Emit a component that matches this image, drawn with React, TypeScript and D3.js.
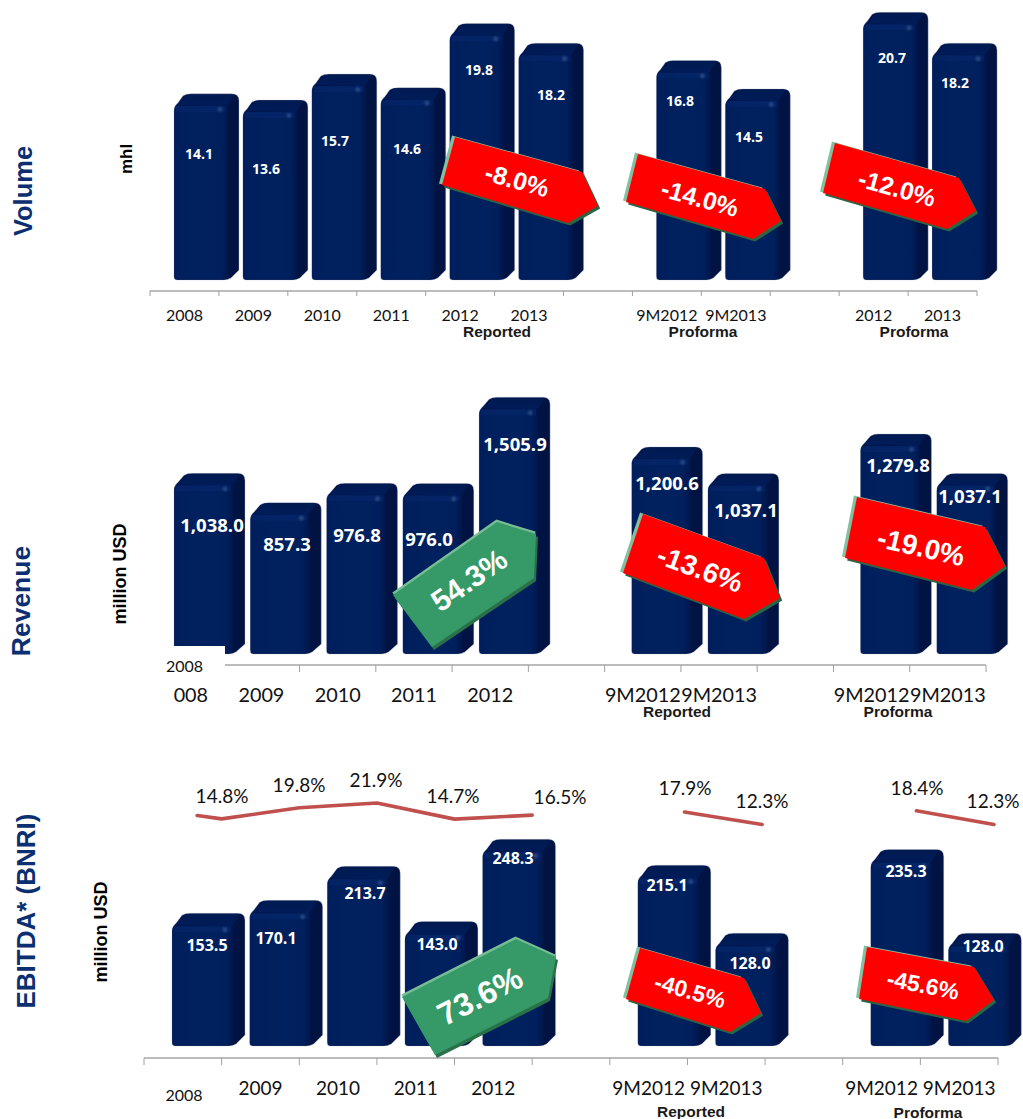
import React from "react";
import * as d3 from "d3";

// ---- Data -------------------------------------------------------------
const volumeCategories = ["2008", "2009", "2010", "2011", "2012", "2013", "gapA", "9M2012", "9M2013", "gapB", "2012P", "2013P"];
const volumeValues = [14.1, 13.6, 15.7, 14.6, 19.8, 18.2, null, 16.8, 14.5, null, 20.7, 18.2];
const volumeTickLabels = ["2008", "2009", "2010", "2011", "2012", "2013", "", "9M2012", "9M2013", "", "2012", "2013"];

const revenueCategories = ["2008", "2009", "2010", "2011", "2012", "gapA", "9M2012", "9M2013", "gapB", "9M2012P", "9M2013P"];
const revenueValues = [1038.0, 857.3, 976.8, 976.0, 1505.9, null, 1200.6, 1037.1, null, 1279.8, 1037.1];
const revenueTickLabels = ["2008", "2009", "2010", "2011", "2012", "", "9M2012", "9M2013", "", "9M2012", "9M2013"];

const ebitdaCategories = revenueCategories;
const ebitdaValues = [153.5, 170.1, 213.7, 143.0, 248.3, null, 215.1, 128.0, null, 235.3, 128.0];
const ebitdaTickLabels = ["", "2009", "2010", "2011", "2012", "", "9M2012", "9M2013", "", "9M2012", "9M2013"];

const marginAnnual = [14.8, 19.8, 21.9, 14.7, 16.5];
const marginAnnualLeadIn = 16.3;
const marginReported = [17.9, 12.3];
const marginProforma = [18.4, 12.3];

const changeLabels = {
  volume: ["-8.0%", "-14.0%", "-12.0%"],
  revenue: ["54.3%", "-13.6%", "-19.0%"],
  ebitda: ["73.6%", "-40.5%", "-45.6%"],
};

// ---- Layout -----------------------------------------------------------
const W = 1023;
const H = 1119;
const LABEL_FONT = "Lato, 'Open Sans', sans-serif";
const VALUE_FONT = "'Open Sans', Lato, sans-serif";
const BOLD_FONT = "'Liberation Sans', Arial, sans-serif";
const NAVY = "#0b2f70";

type Tag = {
  pts: number[][];
  text: string;
  cx: number;
  cy: number;
  angle: number;
  size: number;
  up?: boolean;
};

type Panel = {
  categories: string[];
  values: (number | null)[];
  ticks: string[];
  range: [number, number];
  axisY: number;
  tickLen: number;
  base: number;
  perUnit: number;
  barOffset: number;
  barWidth: number;
  depthX: number;
  depthY: number;
  valueSize: number;
  labelSize: number;
  labelY: number;
  valueAnchors: number[][];
  tags: Tag[];
  groups: { text: string; x: number; y: number }[];
};

const panels: Panel[] = [
  {
    categories: volumeCategories,
    values: volumeValues,
    ticks: volumeTickLabels,
    range: [150, 977],
    axisY: 291,
    tickLen: 5,
    base: 280,
    perUnit: 12.35,
    barOffset: 24,
    barWidth: 52,
    depthX: 13,
    depthY: 12,
    valueSize: 14,
    labelSize: 16,
    labelY: 314,
    valueAnchors: [[199, 153], [266, 168], [335, 140], [407, 148], [479, 69], [551, 94], [0, 0], [680, 100], [749, 136], [0, 0], [892, 57], [955, 82]],
    tags: [
      { pts: [[455, 137], [582, 172], [598, 206], [568, 223], [442, 185]], text: changeLabels.volume[0], cx: 517, cy: 180, angle: 15.5, size: 25 },
      { pts: [[638, 154], [765, 189], [781, 221], [753, 239], [626, 202]], text: changeLabels.volume[1], cx: 700, cy: 198, angle: 15.5, size: 25 },
      { pts: [[835, 143], [959, 178], [976, 211], [947, 229], [823, 193]], text: changeLabels.volume[2], cx: 897, cy: 188, angle: 15.5, size: 25 },
    ],
    groups: [
      { text: "Reported", x: 497, y: 331 },
      { text: "Proforma", x: 703, y: 331 },
      { text: "Proforma", x: 914, y: 331 },
    ],
  },
  {
    categories: revenueCategories,
    values: revenueValues,
    ticks: revenueTickLabels,
    range: [147, 986],
    axisY: 665,
    tickLen: 7,
    base: 654,
    perUnit: 0.1625,
    barOffset: 27,
    barWidth: 57,
    depthX: 14,
    depthY: 12,
    valueSize: 18.5,
    labelSize: 19.8,
    labelY: 694,
    valueAnchors: [[212, 524], [287, 543], [357, 534], [429, 538], [515, 443], [0, 0], [667, 482], [746, 509], [0, 0], [898, 464], [970, 495]],
    tags: [
      { pts: [[393, 595], [497, 522], [536, 534], [534, 578], [432, 647]], text: changeLabels.revenue[0], cx: 469, cy: 580, angle: -35, size: 30, up: true },
      { pts: [[643, 514], [764, 558], [780, 598], [744, 619], [623, 573]], text: changeLabels.revenue[1], cx: 700, cy: 569, angle: 20, size: 28 },
      { pts: [[857, 497], [985, 527], [1005, 566], [972, 590], [845, 558]], text: changeLabels.revenue[2], cx: 921, cy: 547, angle: 13, size: 28 },
    ],
    groups: [
      { text: "Reported", x: 677, y: 711 },
      { text: "Proforma", x: 898, y: 711 },
    ],
  },
  {
    categories: ebitdaCategories,
    values: ebitdaValues,
    ticks: ebitdaTickLabels,
    range: [144, 998],
    axisY: 1058,
    tickLen: 7,
    base: 1046,
    perUnit: 0.78,
    barOffset: 28,
    barWidth: 59,
    depthX: 14,
    depthY: 13,
    valueSize: 16,
    labelSize: 19,
    labelY: 1087,
    valueAnchors: [[207, 945], [276, 938], [365, 893], [437, 944], [513, 858], [0, 0], [667, 885], [750, 963], [0, 0], [906, 871], [983, 946]],
    tags: [
      { pts: [[402, 997], [516, 939], [556, 957], [548, 998], [435, 1055]], text: changeLabels.ebitda[0], cx: 480, cy: 996, angle: -27, size: 32, up: true },
      { pts: [[640, 948], [744, 978], [761, 1013], [730, 1032], [626, 999]], text: changeLabels.ebitda[1], cx: 690, cy: 991, angle: 16, size: 23 },
      { pts: [[867, 947], [974, 967], [994, 1000], [966, 1021], [859, 999]], text: changeLabels.ebitda[2], cx: 923, cy: 985, angle: 11, size: 23 },
    ],
    groups: [
      { text: "Reported", x: 691, y: 1111 },
      { text: "Proforma", x: 928, y: 1112 },
    ],
  },
];

const sideTitles = [
  { text: "Volume", x: 23, y: 191, size: 25.5, fill: NAVY },
  { text: "Revenue", x: 21, y: 601, size: 26.5, fill: NAVY },
  { text: "EBITDA* (BNRI)", x: 26, y: 911, size: 26, fill: NAVY },
  { text: "mhl", x: 126, y: 159, size: 17, fill: "#000" },
  { text: "million USD", x: 120, y: 574, size: 18, fill: "#000" },
  { text: "million USD", x: 101, y: 932, size: 18, fill: "#000" },
];

// Rounded 3D column silhouette: front face plus the receding top and side.
function columnOutline(x0: number, x1: number, top: number, base: number, dx: number, dy: number) {
  const p = d3.path();
  const r = 3;
  p.moveTo(x0 + r, base);
  p.quadraticCurveTo(x0, base, x0, base - r);
  p.lineTo(x0, top + 5);
  p.quadraticCurveTo(x0, top, x0 + 4, top - 3);
  p.lineTo(x0 + dx - 4, top - dy + 2);
  p.quadraticCurveTo(x0 + dx - 1, top - dy, x0 + dx + 4, top - dy);
  p.lineTo(x1 + dx - 7, top - dy);
  p.quadraticCurveTo(x1 + dx, top - dy, x1 + dx, top - dy + 7);
  p.lineTo(x1 + dx, base - dy + 2);
  p.lineTo(x1 + 5, base - 2);
  p.quadraticCurveTo(x1 + 2, base, x1 - 3, base);
  p.closePath();
  return p.toString();
}

function Column({ x, width, top, base, dx, dy }: { x: number; width: number; top: number; base: number; dx: number; dy: number }) {
  const x1 = x + width;
  return (
    <g>
      <path d={columnOutline(x, x1, top, base, dx, dy)} fill="url(#columnSide)" stroke="#b9c1d2" strokeOpacity={0.5} strokeWidth={0.7} />
      <path
        d={`M${x + 3},${top - 1} L${x + dx},${top - dy + 0.8} L${x1 + dx - 5},${top - dy + 0.8} L${x1 + 1},${top} Z`}
        fill="url(#columnTop)"
      />
      <rect x={x + 0.4} y={top} width={width + 2} height={base - top - 0.4} rx={4} fill="url(#columnFront)" />
      <rect x={x + 2} y={top} width={width - 2} height={6} fill="#05276d" opacity={0.5} />
      <circle cx={x1 - 6} cy={top + 3.5} r={2.4} fill="#37558f" opacity={0.75} filter="url(#softDot)" />
    </g>
  );
}

function ChangeTag({ tag }: { tag: Tag }) {
  const d = d3.line()(tag.pts as [number, number][]) + "Z";
  const colors = tag.up
    ? { light: "#79bd96", dark: "#2a7049", face: "#359a68" }
    : { light: "#82c0a0", dark: "#2a6545", face: "#ff0000" };
  const lift = tag.up ? [-0.6, -2.4] : [-3, -1.6];
  const drop = tag.up ? [2, 3] : [2.2, 2.6];
  return (
    <g>
      <path d={d} transform={`translate(${lift[0]},${lift[1]})`} fill={colors.light} />
      <path d={d} transform={`translate(${drop[0]},${drop[1]})`} fill={colors.dark} />
      <path d={d} fill={colors.face} />
      <text
        transform={`translate(${tag.cx},${tag.cy}) rotate(${tag.angle})`}
        textAnchor="middle"
        dominantBaseline="central"
        fontFamily={BOLD_FONT}
        fontWeight={700}
        fontSize={tag.size}
        fill="#fff"
      >
        {tag.text}
      </text>
    </g>
  );
}

function ChartPanel({ panel }: { panel: Panel }) {
  const band = d3.scaleBand<string>().domain(panel.categories).range(panel.range).padding(0);
  const step = band.step();
  const maxValue = d3.max(panel.values as number[]) as number;
  const y = d3
    .scaleLinear()
    .domain([0, maxValue])
    .range([panel.base, panel.base - maxValue * panel.perUnit]);
  const edges = panel.categories.map((c) => band(c) as number).concat(panel.range[1]);

  return (
    <g>
      <line x1={panel.range[0]} x2={panel.range[1]} y1={panel.axisY} y2={panel.axisY} stroke="#a6a6a6" strokeWidth={1.6} />
      {edges.map((e, i) => (
        <line key={i} x1={e} x2={e} y1={panel.axisY} y2={panel.axisY + panel.tickLen} stroke="#a0a0a0" strokeWidth={1} />
      ))}
      {panel.ticks.map((t, i) =>
        t ? (
          <text
            key={i}
            x={(band(panel.categories[i]) as number) + step / 2}
            y={panel.labelY}
            textAnchor="middle"
            dominantBaseline="central"
            fontFamily={LABEL_FONT}
            fontSize={panel.labelSize}
            fill="#111"
          >
            {t}
          </text>
        ) : null
      )}
      {panel.values.map((v, i) =>
        v == null ? null : (
          <Column
            key={i}
            x={(band(panel.categories[i]) as number) + panel.barOffset}
            width={panel.barWidth}
            top={y(v)}
            base={panel.base}
            dx={panel.depthX}
            dy={panel.depthY}
          />
        )
      )}
      {panel.values.map((v, i) =>
        v == null ? null : (
          <text
            key={i}
            x={panel.valueAnchors[i][0]}
            y={panel.valueAnchors[i][1]}
            textAnchor="middle"
            dominantBaseline="central"
            fontFamily={VALUE_FONT}
            fontWeight={700}
            fontSize={panel.valueSize}
            fill="#fff"
          >
            {d3.format(maxValue > 1000 ? ",.1f" : ".1f")(v)}
          </text>
        )
      )}
      {panel.groups.map((g, i) => (
        <text
          key={i}
          x={g.x}
          y={g.y}
          textAnchor="middle"
          dominantBaseline="central"
          fontFamily={BOLD_FONT}
          fontWeight={700}
          fontSize={15.5}
          fill="#1a1a1a"
        >
          {g.text}
        </text>
      ))}
      {panel.tags.map((t, i) => (
        <ChangeTag key={i} tag={t} />
      ))}
    </g>
  );
}

// EBITDA margin polylines above the lowest panel.
function MarginLines() {
  const ebitda = panels[2];
  const band = d3.scaleBand<string>().domain(ebitda.categories).range(ebitda.range);
  const step = band.step();
  const my = d3.scaleLinear().domain([12.3, 21.9]).range([824.5, 803]);
  const line = d3
    .line<{ x: number; v: number }>()
    .x((d) => d.x)
    .y((d) => my(d.v));

  const annual = marginAnnual.map((v, i) => ({ x: (band(ebitda.categories[i]) as number) + step, v }));
  const reported = marginReported.map((v, i) => ({ x: (band(ebitda.categories[6 + i]) as number) + step - 3, v }));
  const proforma = marginProforma.map((v, i) => ({ x: (band(ebitda.categories[9 + i]) as number) + step - 4, v }));
  const leadIn = { x: annual[0].x - 24.5, v: marginAnnualLeadIn };

  const series = [[leadIn, ...annual], reported, proforma];
  const labels = [
    { v: marginAnnual[0], x: 222, y: 795 },
    { v: marginAnnual[1], x: 299, y: 784 },
    { v: marginAnnual[2], x: 376, y: 779 },
    { v: marginAnnual[3], x: 453, y: 795 },
    { v: marginAnnual[4], x: 560, y: 796 },
    { v: marginReported[0], x: 685, y: 787 },
    { v: marginReported[1], x: 762, y: 800 },
    { v: marginProforma[0], x: 917, y: 787 },
    { v: marginProforma[1], x: 993, y: 800 },
  ];
  return (
    <g>
      {series.map((s, i) => (
        <path key={i} d={line(s) as string} fill="none" stroke="#c0504d" strokeWidth={3.6} strokeLinejoin="round" strokeLinecap="round" />
      ))}
      {labels.map((l, i) => (
        <text key={i} x={l.x} y={l.y} textAnchor="middle" dominantBaseline="central" fontFamily={LABEL_FONT} fontSize={19} fill="#111">
          {d3.format(".1f")(l.v)}%
        </text>
      ))}
    </g>
  );
}

export default function App() {
  return (
    <svg width={W} height={H} viewBox={`0 0 ${W} ${H}`} style={{ position: "absolute", left: 0, top: 0, display: "block" }}>
      <defs>
        <linearGradient id="columnFront" x1="0" x2="1" y1="0" y2="0">
          <stop offset="0" stopColor="#001e5c" />
          <stop offset="0.6" stopColor="#00215f" />
          <stop offset="0.88" stopColor="#001f5c" />
          <stop offset="1" stopColor="#00164a" />
        </linearGradient>
        <linearGradient id="columnSide" x1="0" x2="1" y1="0" y2="0">
          <stop offset="0" stopColor="#00134a" />
          <stop offset="1" stopColor="#001342" />
        </linearGradient>
        <linearGradient id="columnTop" x1="0" x2="0" y1="0" y2="1">
          <stop offset="0" stopColor="#001a52" />
          <stop offset="1" stopColor="#001c58" />
        </linearGradient>
        <filter id="softDot" x="-100%" y="-100%" width="300%" height="300%">
          <feGaussianBlur stdDeviation="1" />
        </filter>
      </defs>
      <rect width={W} height={H} fill="#fff" />
      {panels.map((p, i) => (
        <ChartPanel key={i} panel={p} />
      ))}
      {/* White patch over the corner of the revenue panel, with its own year label */}
      <rect x={144} y={646} width={81} height={42} fill="#fff" />
      <rect x={150} y={688} width={23} height={18} fill="#fff" />
      <text x={184.5} y={665} textAnchor="middle" dominantBaseline="central" fontFamily={LABEL_FONT} fontSize={16} fill="#111">
        2008
      </text>
      {/* The first EBITDA year label sits slightly lower than the others */}
      <text x={184} y={1094} textAnchor="middle" dominantBaseline="central" fontFamily={LABEL_FONT} fontSize={16} fill="#111">
        2008
      </text>
      <MarginLines />
      {sideTitles.map((t, i) => (
        <text
          key={i}
          transform={`translate(${t.x},${t.y}) rotate(-90)`}
          textAnchor="middle"
          dominantBaseline="central"
          fontFamily={BOLD_FONT}
          fontWeight={700}
          fontSize={t.size}
          fill={t.fill}
        >
          {t.text}
        </text>
      ))}
    </svg>
  );
}
